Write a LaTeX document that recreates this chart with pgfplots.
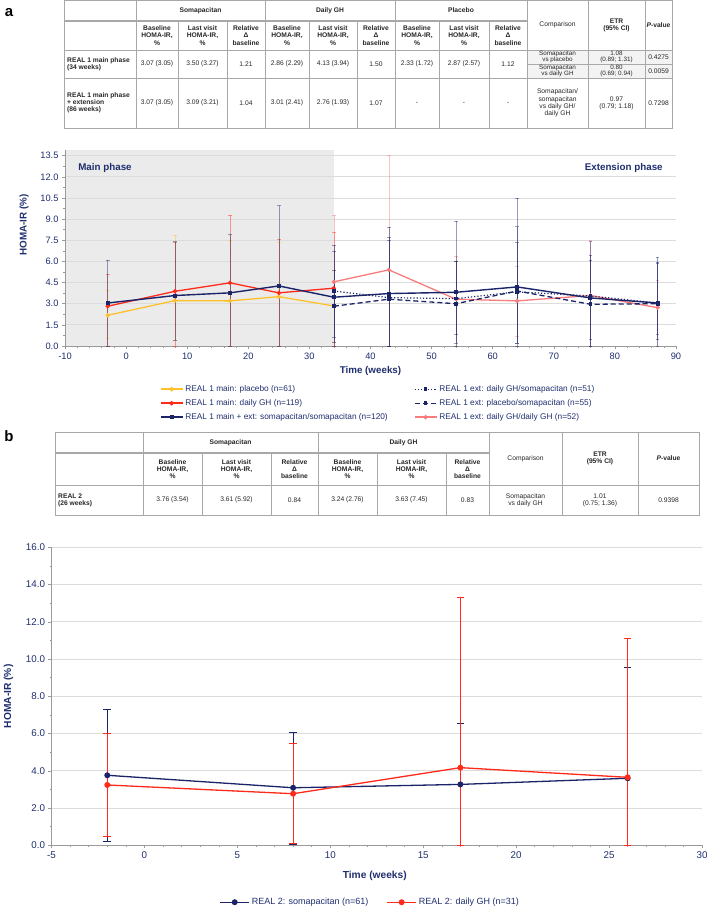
\documentclass[border=0pt]{standalone}
\usepackage{fontspec}
\setmainfont{Liberation Sans}
\usepackage{pgfplots}
\usepackage{pgfplotstable}
\pgfplotsset{compat=1.18}

\definecolor{navy}{HTML}{1B2469}
\definecolor{gred}{HTML}{FF2A1A}
\definecolor{gyel}{HTML}{FFC12B}
\definecolor{gpink}{HTML}{F87C7C}
\definecolor{txtnavy}{HTML}{1F2E6E}
\definecolor{tblline}{HTML}{A8A8A8}
\definecolor{tblfill}{HTML}{F3F3F3}
\definecolor{gridc}{HTML}{DCDCDC}
\definecolor{shade}{HTML}{EBEBEB}
\definecolor{axgrey}{HTML}{9A9A9A}

\newcommand\tf{\fontsize{6.7}{7.2}\selectfont}
\newcommand\tfb{\bfseries\fontsize{6.7}{7.2}\selectfont}
\newcommand\tfs{\fontsize{6.3}{6.4}\selectfont}

% ---- Panel a data: x, y, error plus, error minus
\pgfplotstableread{
x y ep em
-3 2.18 1.77 1.63
8 3.22 4.64 2.82
17 3.20 4.30 3.20
25 3.50 3.84 3.50
34 2.84 2.56 2.60
}\placebo
\pgfplotstableread{
x y ep em
-3 2.82 2.30 2.82
8 3.88 3.47 3.88
17 4.48 4.80 4.48
25 3.77 3.83 3.77
34 4.10 3.95 4.10
}\dailygh
\pgfplotstableread{
x y ep em
-3 3.05 3.05 3.05
8 3.58 3.82 3.18
17 3.77 4.13 3.77
25 4.26 5.69 4.26
34 3.46 3.26 2.82
43 3.72 3.98 3.72
54 3.81 5.05 3.61
64 4.19 6.30 3.99
76 3.41 2.69 2.96
87 3.05 3.23 2.60
}\somasoma
\pgfplotstableread{
x y ep em
34 3.90 3.25 3.90
43 3.43 4.98 3.43
54 3.36 2.66 3.36
64 3.84 4.62 3.64
76 3.55 2.89 3.55
87 3.05 2.92 3.05
}\ghsoma
\pgfplotstableread{
x y ep em
34 2.82 2.58 2.58
43 3.32 4.18 3.32
54 3.00 3.00 2.20
64 3.90 3.42 3.90
76 2.96 4.44 2.96
87 3.00 2.90 2.15
}\plsoma
\pgfplotstableread{
x y ep em
34 4.55 4.75 4.55
43 5.40 8.10 5.40
54 3.32 3.07 3.32
64 3.20 2.46 2.50
76 3.58 3.90 3.58
87 2.72 1.95 2.72
}\ghgh
% ---- Panel b data
\pgfplotstableread{
x y ep em
-2 3.76 3.54 3.56
8 3.09 2.96 3.02
17 3.27 3.28 3.27
26 3.60 5.93 3.60
}\bsoma
\pgfplotstableread{
x y ep em
-2 3.24 2.77 2.76
8 2.77 2.70 2.67
17 4.17 9.13 4.17
26 3.65 7.44 3.65
}\bgh

\pgfplotsset{
  errA/.style={error bars/.cd, y dir=both, y explicit,
    error bar style={#1, solid, line width=0.6pt, opacity=0.45},
    error mark options={#1, solid, rotate=90, mark size=1.8pt, line width=0.6pt, opacity=0.45}},
  errB/.style={error bars/.cd, y dir=both, y explicit,
    error bar style={draw=#1, solid, line width=0.7pt},
    error mark options={draw=#1, solid, rotate=90, mark size=3.8pt, line width=0.7pt}},
  commonax/.style={
    scale only axis,
    axis x line*=bottom, axis y line*=left,
    axis line style={draw=axgrey, line width=0.6pt},
    tick align=outside, major tick length=3pt, minor tick length=2pt,
    tick style={draw=axgrey, line width=0.5pt},
    ymajorgrids, major grid style={draw=gridc, line width=0.8pt},
    yticklabel style={/pgf/number format/.cd, fixed, fixed zerofill, precision=1},
    /pgf/number format/assume math mode=true,
    legend cell align=left,
    set layers,
  },
}

\begin{document}
\begin{tikzpicture}

% ================= panel labels
\node[anchor=center, font=\bfseries\fontsize{15}{16}\selectfont] at (9pt,-13pt) {a};
\node[anchor=center, font=\bfseries\fontsize{15}{16}\selectfont] at (9pt,-436pt) {b};

% ================= Table a
\begin{scope}[x=1pt, y=-1pt, every node/.style={align=center, text=black!85, inner sep=0pt, font=\tf}]
  \fill[tblfill] (527,50) rectangle (672,78);
  \draw[tblline, line width=0.5pt] (64,0) rectangle (672,128);
  \draw[tblline, line width=1.6pt] (64,21) -- (527,21);
  \draw[tblline, line width=0.5pt] (64,50) -- (672,50) (527,64) -- (672,64) (64,78) -- (672,78);
  \foreach \x in {136,265,395,527,588,645} \draw[tblline, line width=0.5pt] (\x,0) -- (\x,128);
  \foreach \x in {178,227,309,357,439,489} \draw[tblline, line width=0.5pt] (\x,21) -- (\x,128);
  \node[font=\tfb] at (200.5,10.5) {Somapacitan};
  \node[font=\tfb] at (330,10.5) {Daily GH};
  \node[font=\tfb] at (461,10.5) {Placebo};
  \node at (557.5,25) {Comparison};
  \node[font=\tfb] at (616.5,25) {ETR\\(95\% CI)};
  \node[font=\tfb] at (658.5,25) {\textit{P}-value};
  \foreach \c in {157,287,417} \node[font=\tfb] at (\c,35.5) {Baseline\\HOMA-IR,\\\%};
  \foreach \c in {202.5,333,464} \node[font=\tfb] at (\c,35.5) {Last visit\\HOMA-IR,\\\%};
  \foreach \c in {246,376,508} \node[font=\tfb] at (\c,35.5) {Relative\\Δ\\baseline};
  \node[font=\tfb, anchor=west, align=left] at (67,64) {REAL 1 main phase\\(34 weeks)};
  \node at (157,64) {3.07 (3.05)};
  \node at (202.5,64) {3.50 (3.27)};
  \node at (246,64) {1.21};
  \node at (287,64) {2.86 (2.29)};
  \node at (333,64) {4.13 (3.94)};
  \node at (376,64) {1.50};
  \node at (417,64) {2.33 (1.72)};
  \node at (464,64) {2.87 (2.57)};
  \node at (508,64) {1.12};
  \node[font=\tfs] at (557.5,57) {Somapacitan\\vs placebo};
  \node[font=\tfs] at (616.5,57) {1.08\\(0.89; 1.31)};
  \node at (658.5,57) {0.4275};
  \node[font=\tfs] at (557.5,71) {Somapacitan\\vs daily GH};
  \node[font=\tfs] at (616.5,71) {0.80\\(0.69; 0.94)};
  \node at (658.5,71) {0.0059};
  \node[font=\tfb, anchor=west, align=left] at (67,103) {REAL 1 main phase\\+ extension\\(86 weeks)};
  \node at (157,103) {3.07 (3.05)};
  \node at (202.5,103) {3.09 (3.21)};
  \node at (246,103) {1.04};
  \node at (287,103) {3.01 (2.41)};
  \node at (333,103) {2.76 (1.93)};
  \node at (376,103) {1.07};
  \node at (417,103) {-};
  \node at (464,103) {-};
  \node at (508,103) {-};
  \node at (557.5,103) {Somapacitan/\\somapacitan\\vs daily GH/\\daily GH};
  \node at (616.5,103) {0.97\\(0.79; 1.18)};
  \node at (658.5,103) {0.7298};
\end{scope}

% ================= Table b
\begin{scope}[x=1pt, y=-1pt, every node/.style={align=center, text=black!85, inner sep=0pt, font=\tf}]
  \draw[tblline, line width=0.5pt] (55,432) rectangle (699,515);
  \draw[tblline, line width=1.6pt] (55,453) -- (489,453);
  \draw[tblline, line width=0.5pt] (55,485) -- (699,485);
  \foreach \x in {143,318,489,562,638} \draw[tblline, line width=0.5pt] (\x,432) -- (\x,515);
  \foreach \x in {202,271,377,446} \draw[tblline, line width=0.5pt] (\x,453) -- (\x,515);
  \node[font=\tfb] at (230.5,442.5) {Somapacitan};
  \node[font=\tfb] at (403.5,442.5) {Daily GH};
  \node at (525.5,458.5) {Comparison};
  \node[font=\tfb] at (600,458.5) {ETR\\(95\% CI)};
  \node[font=\tfb] at (668.5,458.5) {\textit{P}-value};
  \foreach \c in {172.5,347.5} \node[font=\tfb] at (\c,469) {Baseline\\HOMA-IR,\\\%};
  \foreach \c in {236.5,411.5} \node[font=\tfb] at (\c,469) {Last visit\\HOMA-IR,\\\%};
  \foreach \c in {294.5,467.5} \node[font=\tfb] at (\c,469) {Relative\\Δ\\baseline};
  \node[font=\tfb, anchor=west, align=left] at (58,500) {REAL 2\\(26 weeks)};
  \node at (172.5,500) {3.76 (3.54)};
  \node at (236.5,500) {3.61 (5.92)};
  \node at (294.5,500) {0.84};
  \node at (347.5,500) {3.24 (2.76)};
  \node at (411.5,500) {3.63 (7.45)};
  \node at (467.5,500) {0.83};
  \node at (525.5,500) {Somapacitan\\vs daily GH};
  \node at (600,500) {1.01\\(0.75; 1.36)};
  \node at (668.5,500) {0.9398};
\end{scope}

% ================= Chart a
\begin{axis}[commonax,
  at={(65pt,-346pt)}, anchor=south west,
  width=611pt, height=196pt,
  xmin=-10, xmax=90, ymin=0, ymax=13.9,
  xtick={-10,0,...,90}, ytick={0,1.5,3,4.5,6,7.5,9,10.5,12,13.5},
  minor x tick num=4, minor y tick num=1,
  ticklabel style={font=\fontsize{9.3}{10}\selectfont, text=txtnavy},
  label style={font=\bfseries\fontsize{9.8}{11}\selectfont, text=txtnavy},
  xlabel={Time (weeks)}, ylabel={HOMA-IR (\%)},
  x label style={at={(axis description cs:0.5,-0.128)}, anchor=center},
  y label style={at={(axis description cs:-0.067,0.617)}, anchor=center},
  legend columns=2,
  legend image code/.code={\draw[mark repeat=2, mark phase=2, #1] plot coordinates {(0pt,0pt) (11pt,0pt) (22pt,0pt)};},
  legend style={at={(axis description cs:0.155,-0.19)}, anchor=north west,
    draw=none, fill=none, inner sep=0pt,
    font=\fontsize{8.3}{9.5}\selectfont, text=txtnavy,
    row sep=2.5pt, /tikz/every even column/.append style={column sep=24pt}},
]
\addplot[fill=shade, draw=none, on layer=axis background, forget plot]
  coordinates {(-10,0) (-10,13.9) (34,13.9) (34,0)} \closedcycle;

\addplot[gyel, line width=1.3pt, mark=*, mark size=1.4pt, forget plot, errA=gyel]
  table[x=x, y=y, y error plus=ep, y error minus=em] {\placebo};
\addplot[gred, line width=1.3pt, mark=*, mark size=1.4pt, forget plot, errA=gred]
  table[x=x, y=y, y error plus=ep, y error minus=em] {\dailygh};
\addplot[gpink, line width=1.3pt, mark=*, mark size=1.4pt, forget plot, errA=gpink]
  table[x=x, y=y, y error plus=ep, y error minus=em] {\ghgh};
\addplot[navy, line width=1.2pt, dotted, mark=square*, mark size=1.2pt, mark options={solid}, forget plot, errA=navy]
  table[x=x, y=y, y error plus=ep, y error minus=em] {\ghsoma};
\addplot[navy, line width=1.3pt, dash pattern=on 5pt off 3pt, mark=square*, mark size=1.2pt, mark options={solid}, forget plot, errA=navy]
  table[x=x, y=y, y error plus=ep, y error minus=em] {\plsoma};
\addplot[navy, line width=1.4pt, mark=square*, mark size=1.3pt, forget plot, errA=navy]
  table[x=x, y=y, y error plus=ep, y error minus=em] {\somasoma};

\addlegendimage{gyel, line width=1.5pt, mark=*, mark size=1.4pt}
\addlegendentry{REAL 1 main: placebo (n=61)}
\addlegendimage{navy, line width=1.3pt, dotted, mark=square*, mark size=1.2pt, mark options={solid}}
\addlegendentry{REAL 1 ext: daily GH/somapacitan (n=51)}
\addlegendimage{gred, line width=1.5pt, mark=*, mark size=1.4pt}
\addlegendentry{REAL 1 main: daily GH (n=119)}
\addlegendimage{navy, line width=1.4pt, dash pattern=on 5pt off 3pt, mark=square*, mark size=1.2pt, mark options={solid}}
\addlegendentry{REAL 1 ext: placebo/somapacitan (n=55)}
\addlegendimage{navy, line width=1.5pt, mark=square*, mark size=1.3pt}
\addlegendentry{REAL 1 main + ext: somapacitan/somapacitan (n=120)}
\addlegendimage{gpink, line width=1.5pt, mark=*, mark size=1.4pt}
\addlegendentry{REAL 1 ext: daily GH/daily GH (n=52)}

\node[anchor=west, font=\bfseries\fontsize{9.8}{11}\selectfont, text=txtnavy] at (rel axis cs:0.016,0.908) {Main phase};
\node[anchor=east, font=\bfseries\fontsize{9.8}{11}\selectfont, text=txtnavy] at (rel axis cs:0.984,0.908) {Extension phase};
\end{axis}

% ================= Chart b
\begin{axis}[commonax,
  at={(51.5pt,-845.3pt)}, anchor=south west,
  width=650.5pt, height=298pt,
  xmin=-5, xmax=30, ymin=0, ymax=16,
  xtick={-5,0,...,30}, ytick={0,2,...,16},
  minor x tick num=4, minor y tick num=1,
  ticklabel style={font=\fontsize{9.8}{11}\selectfont, text=txtnavy},
  label style={font=\bfseries\fontsize{10.2}{12}\selectfont, text=txtnavy},
  xlabel={Time (weeks)}, ylabel={HOMA-IR (\%)},
  x label style={at={(axis description cs:0.497,-0.104)}, anchor=center},
  y label style={at={(axis description cs:-0.066,0.5)}, anchor=center},
  legend columns=2,
  legend image code/.code={\draw[mark repeat=2, mark phase=2, #1] plot coordinates {(0pt,0pt) (14.5pt,0pt) (29pt,0pt)};},
  legend style={at={(axis description cs:0.49,-0.191)}, anchor=center,
    draw=none, fill=none, inner sep=0pt,
    font=\fontsize{9}{10}\selectfont, text=txtnavy,
    /tikz/every even column/.append style={column sep=16pt}},
]
\addplot[navy, only marks, mark=none, forget plot, errB=navy]
  table[x=x, y=y, y error plus=ep, y error minus=em] {\bsoma};
\addplot[gred, only marks, mark=none, forget plot, errB=gred]
  table[x=x, y=y, y error plus=ep, y error minus=em] {\bgh};
\addplot[navy, line width=1.3pt, mark=*, mark size=2.3pt]
  table[x=x, y=y] {\bsoma};
\addlegendentry{REAL 2: somapacitan (n=61)}
\addplot[gred, line width=1.3pt, mark=*, mark size=2.3pt]
  table[x=x, y=y] {\bgh};
\addlegendentry{REAL 2: daily GH (n=31)}
\end{axis}

\pgfresetboundingbox
\path (0pt,0pt) rectangle (708pt,-906pt);
\end{tikzpicture}
\end{document}
